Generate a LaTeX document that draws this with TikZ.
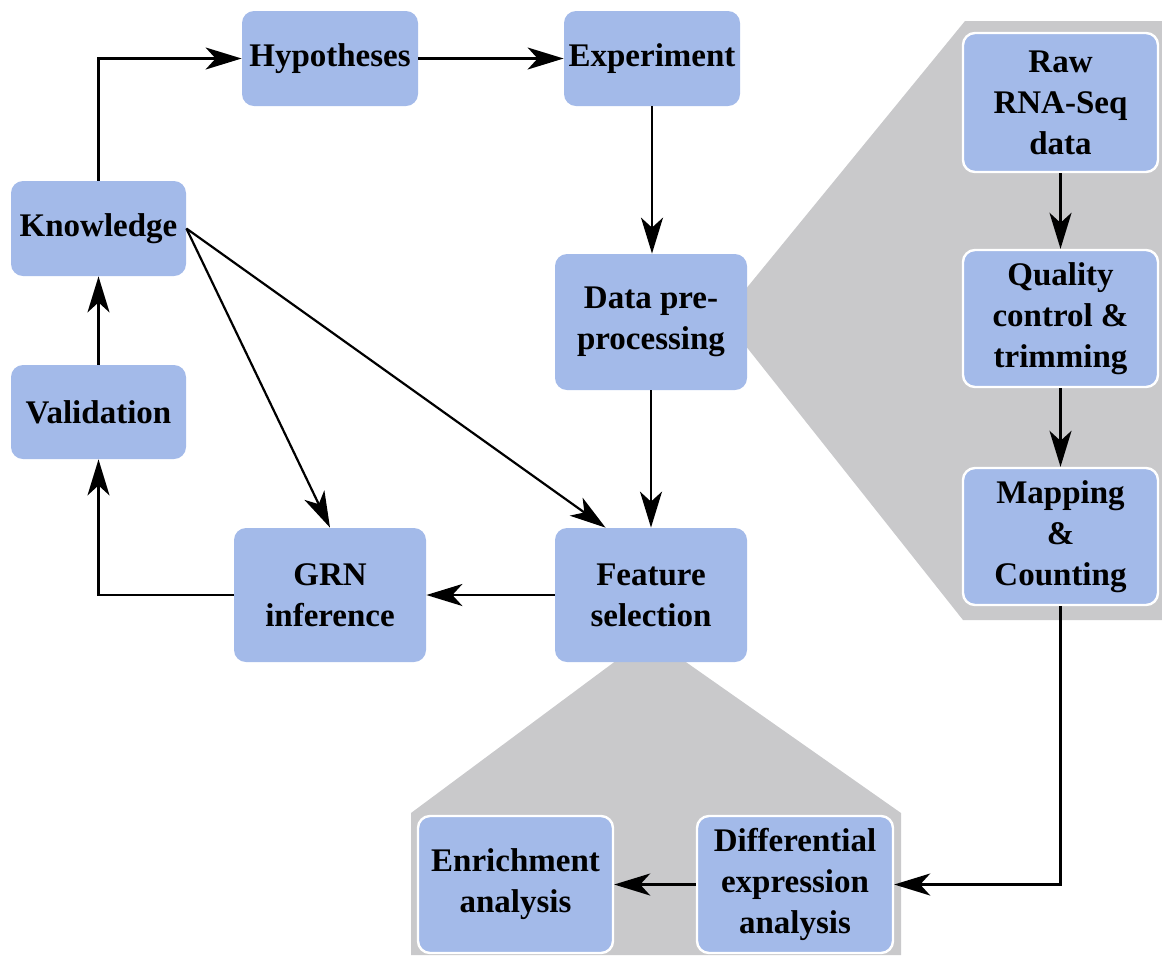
\documentclass[tikz,border=0pt]{standalone}
\usepackage{fontspec}
\setmainfont{Liberation Serif}
\usetikzlibrary{arrows.meta,calc}
\definecolor{boxblue}{RGB}{163,186,233}
\definecolor{zoomgray}{RGB}{201,201,203}
\begin{document}
\begin{tikzpicture}[x=0.5pt,y=-0.5pt,
  box/.style={rounded corners=6pt, fill=boxblue, align=center,
    font=\fontsize{16.5}{20.5}\selectfont\bfseries, inner sep=0pt},
  inbox/.style={box, draw=white, line width=1.2pt},
  arr/.style={line width=1.1pt, -{Stealth[length=18pt,width=11pt,inset=5pt]}},
  zoomarea/.style={fill=zoomgray, draw=none}]
\useasboundingbox (0,0) rectangle (1162,955);
% zoom-out backgrounds
\path[zoomarea] (745,290) -- (965,21) -- (1162,21) -- (1162,620) -- (963,620) -- (745,345) -- cycle;
\path[zoomarea] (617,660) -- (683,660) -- (901,813) -- (901,955) -- (411,955) -- (411,813) -- cycle;
% main cycle
\node[box, minimum width=88pt, minimum height=47.5pt] (hyp) at (330,58.5) {Hypotheses};
\node[box, minimum width=88pt, minimum height=47.5pt] (exp) at (652,58.5) {Experiment};
\node[box, minimum width=87.5pt, minimum height=47.5pt] (know) at (98.5,228.5) {Knowledge};
\node[box, minimum width=87.5pt, minimum height=47pt] (val) at (98.5,412) {Validation};
\node[box, minimum width=96pt, minimum height=67pt] (grn) at (330,595) {GRN\\inference};
\node[box, minimum width=96pt, minimum height=68pt] (pre) at (651,322) {Data pre-\\processing};
\node[box, minimum width=96pt, minimum height=67pt] (feat) at (651,595) {Feature\\selection};
% pre-processing detail
\node[inbox, minimum width=97.5pt, minimum height=69.5pt] (raw) at (1060.5,102.5) {Raw\\RNA-Seq\\data};
\node[inbox, minimum width=97.5pt, minimum height=68.5pt] (qc) at (1060.5,318.5) {Quality\\control \&\\trimming};
\node[inbox, minimum width=97.5pt, minimum height=68.5pt] (map) at (1060.5,536.5) {Mapping\\\&\\Counting};
% feature selection detail
\node[inbox, minimum width=97.5pt, minimum height=68.5pt] (enr) at (515.5,884.5) {Enrichment\\analysis};
\node[inbox, minimum width=98pt, minimum height=68.5pt] (dif) at (795,884.5) {Differential\\expression\\analysis};
% connectors
\draw[arr] (know.north) -- (know.north |- hyp.west) -- (hyp.west);
\draw[arr] (hyp.east) -- (exp.west);
\draw[arr] (exp.south) -- (exp.south |- pre.north);
\draw[arr] (pre.south) -- (feat.north);
\draw[arr] (feat.west) -- (grn.east);
\draw[arr] (grn.west) -- (grn.west -| val.south) -- (val.south);
\draw[arr] (val.north) -- (know.south);
\draw[arr] (know.east) -- (grn.north);
\draw[arr] (know.east) -- (feat.124);
\draw[arr] (raw.south) -- (qc.north);
\draw[arr] (qc.south) -- (map.north);
\draw[arr] (map.south) -- (map.south |- dif.east) -- (dif.east);
\draw[arr] (dif.west) -- (enr.east);
\end{tikzpicture}
\end{document}
